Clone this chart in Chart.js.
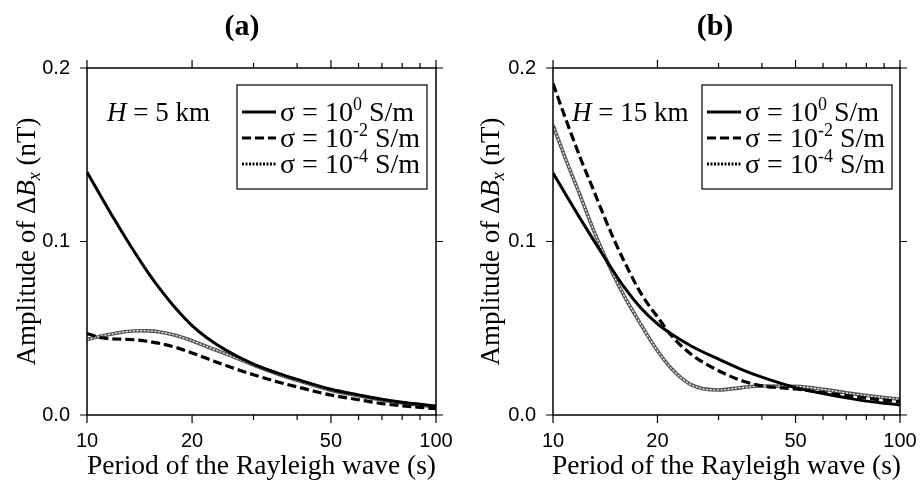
<!DOCTYPE html>
<html>
<head>
<meta charset="utf-8">
<script src="https://cdn.jsdelivr.net/npm/chart.js@4.4.1/dist/chart.umd.min.js"></script>
<style>
  html, body { margin: 0; padding: 0; background: #fff; }
  #wrap { display: flex; width: 920px; height: 483px; }
  canvas { display: block; }
</style>
</head>
<body>
<div id="wrap">
  <canvas id="panelA" width="460" height="483"></canvas>
  <canvas id="panelB" width="460" height="483"></canvas>
</div>
<script>
// periods of the Rayleigh wave (s)
const periods = [10, 11, 12, 13, 14, 15, 16, 18, 20, 22, 25, 30, 35, 40, 50, 60, 70, 80, 90, 100];

// panel (a), H = 5 km
const solidA  = [0.140, 0.1255, 0.1125, 0.101, 0.0908, 0.0818, 0.074, 0.0612, 0.0515, 0.0447, 0.0374, 0.0293, 0.0243, 0.0205, 0.0148, 0.0116, 0.0091, 0.0074, 0.0062, 0.0052];
const dashedA = [0.047, 0.0445, 0.0438, 0.0436, 0.0432, 0.0424, 0.0414, 0.0389, 0.0358, 0.0327, 0.0285, 0.0232, 0.0192, 0.0162, 0.0115, 0.0088, 0.0066, 0.0053, 0.0044, 0.0036];
const dottedA = [0.0435, 0.0455, 0.047, 0.0481, 0.0486, 0.0485, 0.048, 0.0458, 0.0428, 0.0395, 0.0352, 0.0288, 0.0238, 0.0200, 0.0143, 0.0111, 0.0087, 0.0069, 0.0057, 0.0047];

// panel (b), H = 15 km
const solidB  = [0.1395, 0.1255, 0.113, 0.1018, 0.0915, 0.0822, 0.074, 0.0612, 0.0525, 0.0465, 0.0398, 0.0322, 0.0262, 0.0218, 0.0158, 0.0124, 0.0099, 0.008, 0.0068, 0.0058];
const dashedB = [0.191, 0.168, 0.148, 0.131, 0.115, 0.101, 0.089, 0.0695, 0.0565, 0.0455, 0.035, 0.0255, 0.0198, 0.0168, 0.0150, 0.0129, 0.0112, 0.0097, 0.0086, 0.0077];
const dottedB = [0.167, 0.145, 0.126, 0.108, 0.093, 0.080, 0.069, 0.0515, 0.037, 0.0265, 0.0175, 0.0144, 0.0158, 0.0167, 0.0165, 0.0148, 0.0128, 0.0112, 0.0100, 0.0090];

// axes
const xTicks = [10, 20, 30, 40, 50, 60, 70, 80, 90, 100];
const xLabelled = [10, 20, 50, 100];
const yTicks = [0, 0.1, 0.2];

// legend: σ = 10^exp S/m
const sigmaExps = ['0', '-2', '-4'];

const SERIF = '"Liberation Serif", "Times New Roman", serif';
const SANS = '"Liberation Sans", Arial, sans-serif';

// line styles of the three curves (legend samples use the same)
const styles = [
  { color: '#000', width: 3, dash: [] },
  { color: '#000', width: 3.2, dash: [9, 4] },
  { color: '#000', width: 3, dash: [2, 1.5] }
];

function pts(arr) {
  return periods.map((p, i) => ({ x: p, y: arr[i] }));
}

function drawRuns(ctx, x, y, runs, align) {
  let total = 0;
  runs.forEach(r => { ctx.font = r.font; total += ctx.measureText(r.text).width; });
  let cx = align === 'center' ? x - total / 2 : x;
  runs.forEach(r => {
    ctx.font = r.font;
    ctx.fillText(r.text, cx, y + (r.dy || 0));
    cx += ctx.measureText(r.text).width;
  });
}

const decorPlugin = {
  id: 'decor',
  afterDraw(chart, args, opts) {
    const ctx = chart.ctx;
    const a = chart.chartArea;
    const xs = chart.scales.x, ys = chart.scales.y;
    ctx.save();
    ctx.fillStyle = '#000';
    ctx.strokeStyle = '#000';

    // frame
    ctx.lineWidth = 1.5;
    ctx.strokeRect(a.left, a.top, a.right - a.left, a.bottom - a.top);

    // ticks, outward on all four sides
    ctx.lineWidth = 1.2;
    ctx.beginPath();
    xTicks.forEach(v => {
      const px = xs.getPixelForValue(v);
      const len = xLabelled.includes(v) ? 8 : 5;
      ctx.moveTo(px, a.bottom); ctx.lineTo(px, a.bottom + len);
      ctx.moveTo(px, a.top); ctx.lineTo(px, a.top - len);
    });
    yTicks.forEach(v => {
      const py = ys.getPixelForValue(v);
      ctx.moveTo(a.left, py); ctx.lineTo(a.left - 7, py);
      ctx.moveTo(a.right, py); ctx.lineTo(a.right + 7, py);
    });
    ctx.stroke();

    // panel title
    ctx.textBaseline = 'alphabetic';
    ctx.font = 'bold 30px ' + SERIF;
    ctx.textAlign = 'center';
    ctx.fillText(opts.panel, opts.titleX, 35);
    ctx.textAlign = 'left';

    // x title
    drawRuns(ctx, (a.left + a.right) / 2, 474,
      [{ text: 'Period of the Rayleigh wave (s)', font: '27.5px ' + SERIF }], 'center');

    // y title, rotated
    ctx.save();
    ctx.translate(a.left - opts.yTitleGap, (a.top + a.bottom) / 2);
    ctx.rotate(-Math.PI / 2);
    drawRuns(ctx, 0, 0, [
      { text: 'Amplitude of \u0394', font: '27px ' + SERIF },
      { text: 'B', font: 'italic 27px ' + SERIF },
      { text: 'x', font: 'italic 18px ' + SERIF, dy: 5 },
      { text: ' (nT)', font: '27px ' + SERIF }
    ], 'center');
    ctx.restore();

    // H annotation
    drawRuns(ctx, a.left + opts.hX, 121, [
      { text: 'H', font: 'italic 27px ' + SERIF },
      { text: ' = ' + opts.h + ' km', font: '27px ' + SERIF }
    ], 'left');

    // legend box
    const bx = a.left + opts.boxX, by = 85, bw = 190, bh = 104;
    ctx.fillStyle = '#fff';
    ctx.fillRect(bx, by, bw, bh);
    ctx.lineWidth = 1.2;
    ctx.strokeRect(bx, by, bw, bh);
    ctx.fillStyle = '#000';
    styles.forEach((st, i) => {
      const base = 121 + i * 26;
      const ly = base - 9;
      ctx.save();
      ctx.strokeStyle = st.color;
      ctx.lineWidth = st.width;
      ctx.setLineDash(st.dash);
      ctx.beginPath();
      ctx.moveTo(bx + 5, ly);
      ctx.lineTo(bx + 39, ly);
      ctx.stroke();
      ctx.restore();
      drawRuns(ctx, bx + 43, base, [
        { text: '\u03c3 = 10', font: '28px ' + SERIF },
        { text: sigmaExps[i], font: '18px ' + SERIF, dy: -11 },
        { text: ' S/m', font: '28px ' + SERIF }
      ], 'left');
    });
    ctx.restore();
  }
};

function makeChart(id, solid, dashed, dotted, o) {
  // Chart.js paints the last dataset first, so the solid curve ends up on top
  return new Chart(document.getElementById(id), {
    type: 'line',
    data: {
      datasets: [
        { data: pts(solid), borderColor: styles[0].color, borderWidth: styles[0].width, borderDash: styles[0].dash },
        { data: pts(dashed), borderColor: styles[1].color, borderWidth: styles[1].width, borderDash: styles[1].dash },
        // the σ = 1e-4 curve is a grey double line with a dotted core
        { data: pts(dotted), borderColor: '#fff', borderWidth: 1.2, borderDash: [2, 1.6] },
        { data: pts(dotted), borderColor: '#555', borderWidth: 3.6, borderDash: [] }
      ]
    },
    options: {
      responsive: false,
      animation: false,
      devicePixelRatio: 1,
      layout: { padding: { left: 0, right: o.padRight, top: 68, bottom: 0 } },
      elements: {
        point: { radius: 0 },
        line: { cubicInterpolationMode: 'monotone', fill: false }
      },
      plugins: {
        legend: { display: false },
        tooltip: { enabled: false },
        decor: o
      },
      scales: {
        x: {
          type: 'logarithmic',
          min: 10,
          max: 100,
          afterBuildTicks: s => { s.ticks = xTicks.map(v => ({ value: v })); },
          afterFit: s => { s.height = 68; },
          grid: { display: false, drawTicks: true, tickLength: 14 },
          border: { display: false },
          ticks: {
            autoSkip: false,
            maxRotation: 0,
            padding: 0,
            color: '#000',
            font: { family: SANS, size: 20 },
            callback: v => xLabelled.includes(v) ? String(v) : ''
          }
        },
        y: {
          min: 0,
          max: 0.2,
          afterBuildTicks: s => { s.ticks = yTicks.map(v => ({ value: v })); },
          afterFit: s => { s.width = o.yWidth; },
          grid: { display: false, drawTicks: false },
          border: { display: false },
          ticks: {
            padding: 17,
            color: '#000',
            font: { family: SANS, size: 20 },
            callback: v => v.toFixed(1)
          }
        }
      }
    },
    plugins: [decorPlugin]
  });
}

makeChart('panelA', solidA, dashedA, dottedA,
  { panel: '(a)', titleX: 242, h: '5', hX: 20, boxX: 150, yWidth: 87, padRight: 24, yTitleGap: 52 });
makeChart('panelB', solidB, dashedB, dottedB,
  { panel: '(b)', titleX: 255, h: '15', hX: 19, boxX: 149, yWidth: 93, padRight: 20, yTitleGap: 54 });
</script>
</body>
</html>
